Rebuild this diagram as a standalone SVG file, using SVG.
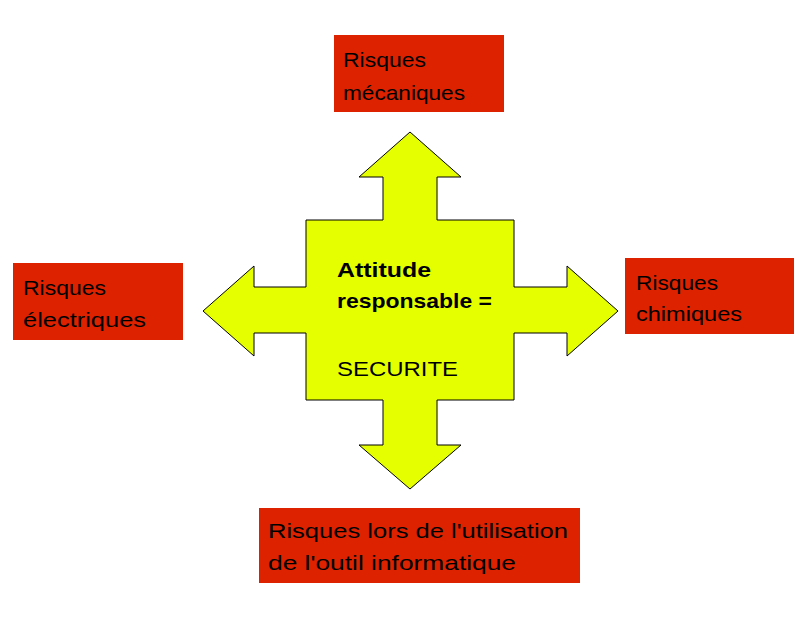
<svg xmlns="http://www.w3.org/2000/svg" width="794" height="632" viewBox="0 0 794 632">
<style>
.box{fill:#DD2200;}
.t{font-family:"Liberation Sans","DejaVu Sans",sans-serif;font-size:21px;fill:#000;}
.b{font-weight:bold;}
.cross{fill:#E6FF00;stroke:#000;stroke-width:1;}
</style>
<rect width="794" height="632" fill="#fff"/>
<g id="connectors">
<path class="cross" d="M410,132 L461,177 L437,177 L437,220 L514,220 L514,287 L567,287 L567,266 L618,311 L567,356 L567,333 L514,333 L514,400 L437,400 L437,445 L461,445 L410,489 L359,445 L383,445 L383,400 L306,400 L306,333 L254,333 L254,356 L203,311 L254,266 L254,287 L306,287 L306,220 L383,220 L383,177 L359,177 Z"/>
</g>
<g id="center">
<text class="t b" x="337" y="277" textLength="94" lengthAdjust="spacingAndGlyphs">Attitude</text>
<text class="t b" x="337" y="308" textLength="155" lengthAdjust="spacingAndGlyphs">responsable =</text>
<text class="t" x="337" y="376" textLength="121" lengthAdjust="spacingAndGlyphs">SECURITE</text>
</g>
<g id="mecaniques">
<rect class="box" x="334" y="35" width="170" height="77"/>
<text class="t" x="343" y="67" textLength="83" lengthAdjust="spacingAndGlyphs">Risques</text>
<text class="t" x="343" y="100" textLength="122" lengthAdjust="spacingAndGlyphs">mécaniques</text>
</g>
<g id="electriques">
<rect class="box" x="13" y="263" width="170" height="77"/>
<text class="t" x="23" y="295" textLength="83" lengthAdjust="spacingAndGlyphs">Risques</text>
<text class="t" x="23" y="327" textLength="123" lengthAdjust="spacingAndGlyphs">électriques</text>
</g>
<g id="chimiques">
<rect class="box" x="625" y="258" width="169" height="76"/>
<text class="t" x="636" y="290" textLength="82" lengthAdjust="spacingAndGlyphs">Risques</text>
<text class="t" x="636" y="321" textLength="106" lengthAdjust="spacingAndGlyphs">chimiques</text>
</g>
<g id="informatique">
<rect class="box" x="259" y="508" width="321" height="75"/>
<text class="t" x="268" y="538" textLength="300" lengthAdjust="spacingAndGlyphs">Risques lors de l'utilisation</text>
<text class="t" x="268" y="570" textLength="248" lengthAdjust="spacingAndGlyphs">de l'outil informatique</text>
</g>
</svg>
